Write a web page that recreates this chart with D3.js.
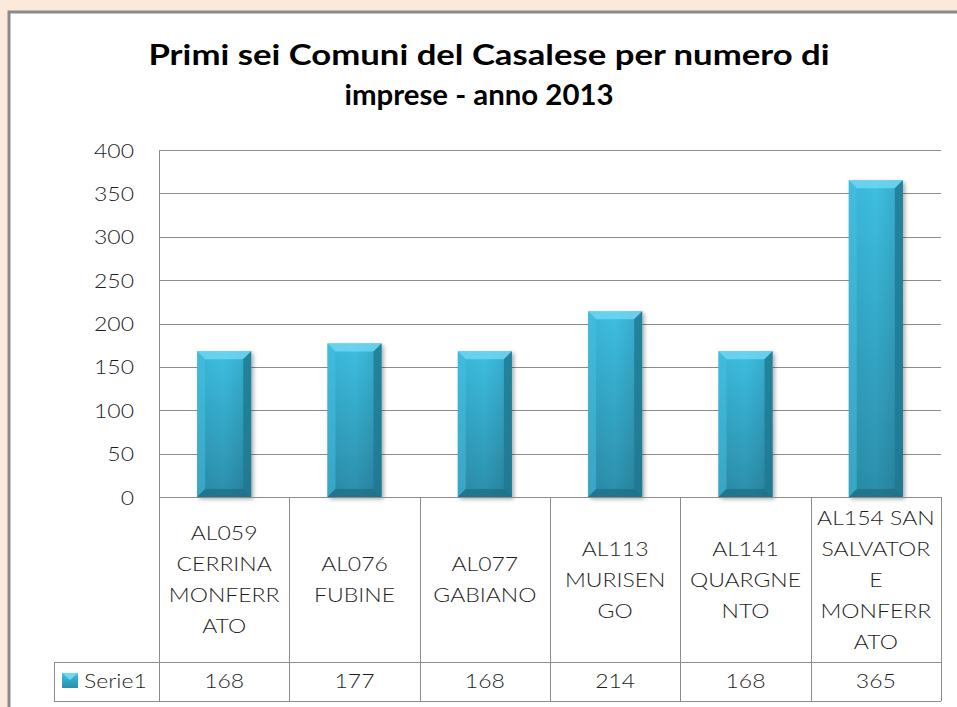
<!DOCTYPE html>
<html>
<head>
<meta charset="utf-8">
<script src="https://cdn.jsdelivr.net/npm/d3@7"></script>
<style>
  html, body { margin: 0; padding: 0; background: #fff; overflow: hidden; }
  svg { display: block; }
</style>
</head>
<body>
<svg id="chart" width="957" height="707"></svg>
<script>
// Data
const categories = ["AL059 CERRINA MONFERRATO", "AL076 FUBINE", "AL077 GABIANO",
  "AL113 MURISENGO", "AL141 QUARGNENTO", "AL154 SAN SALVATORE MONFERRATO"];
const categoryLines = [
  ["AL059", "CERRINA", "MONFERR", "ATO"],
  ["AL076", "FUBINE"],
  ["AL077", "GABIANO"],
  ["AL113", "MURISEN", "GO"],
  ["AL141", "QUARGNE", "NTO"],
  ["AL154 SAN", "SALVATOR", "E", "MONFERR", "ATO"]
];
const values = [168, 177, 168, 214, 168, 365];
const seriesName = "Serie1";
const yTicks = [0, 50, 100, 150, 200, 250, 300, 350, 400];
const titleLines = ["Primi sei Comuni del Casalese per numero di", "imprese - anno 2013"];

const font = "Lato, 'Open Sans', sans-serif";
const sx = 1.15;                // horizontal stretch of body text (picture is widened)
const sxTitle = [1.24, 1.05];
const titleX = [489, 479];
const textColor = "#1e1e1e";
const lineColor = "#8c8c8c";

const svg = d3.select("#chart");

// page background, then chart area (white box, grey frame on the visible left/top edges)
svg.append("rect")
  .attr("width", 957).attr("height", 707)
  .attr("fill", "#fde9d9");
svg.append("rect")
  .attr("x", 9).attr("y", 12)
  .attr("width", 948).attr("height", 695)
  .attr("fill", "#fff");
svg.append("path")
  .attr("d", "M9,707 V12 H957")
  .attr("fill", "none")
  .attr("stroke", "#8a8a8a")
  .attr("stroke-width", 3);

// title
svg.append("g").selectAll("text")
  .data(titleLines)
  .join("text")
  .attr("transform", (d, i) => `translate(${titleX[i]},${65 + i * 40}) scale(${sxTitle[i]},1)`)
  .attr("text-anchor", "middle")
  .attr("font-family", font)
  .attr("font-weight", "bold")
  .attr("font-size", 28)
  .attr("fill", "#000")
  .text(d => d);

// scales
const x = d3.scaleBand()
  .domain(categories)
  .range([159, 941])
  .paddingInner(0).paddingOuter(0);

const y = d3.scaleLinear()
  .domain([0, 400])
  .range([497, 150]);

const barW = x.bandwidth() * 0.415;

// gridlines
svg.append("g").selectAll("line")
  .data(yTicks)
  .join("line")
  .attr("x1", 159).attr("x2", 941)
  .attr("y1", d => Math.round(y(d)) + 0.5).attr("y2", d => Math.round(y(d)) + 0.5)
  .attr("stroke", lineColor);

// y axis labels
const yAxis = svg.append("g")
  .attr("transform", "translate(159,0)")
  .call(d3.axisLeft(y).tickValues(yTicks).tickSize(0).tickFormat(() => ""));
yAxis.select(".domain").attr("stroke", lineColor);
yAxis.selectAll(".tick")
  .append("text")
  .attr("transform", `translate(-25,7) scale(${sx},1)`)
  .attr("text-anchor", "end")
  .attr("font-family", font)
  .attr("font-weight", 300)
  .attr("font-size", 20)
  .attr("fill", textColor)
  .text(d => d);

// bar gradients
const defs = svg.append("defs");
const gMain = defs.append("linearGradient").attr("id", "barMain")
  .attr("x1", 0).attr("y1", 0).attr("x2", 0).attr("y2", 1);
gMain.append("stop").attr("offset", "0%").attr("stop-color", "#3dbfe2");
gMain.append("stop").attr("offset", "100%").attr("stop-color", "#2b8eab");

const gSide = defs.append("linearGradient").attr("id", "barSide")
  .attr("x1", 0).attr("y1", 0).attr("x2", 1).attr("y2", 0);
gSide.append("stop").attr("offset", "0%").attr("stop-color", "#000").attr("stop-opacity", 0.05);
gSide.append("stop").attr("offset", "50%").attr("stop-color", "#000").attr("stop-opacity", 0);
gSide.append("stop").attr("offset", "100%").attr("stop-color", "#000").attr("stop-opacity", 0.12);

const shadow = defs.append("filter").attr("id", "shadow")
  .attr("x", "-20%").attr("y", "-10%").attr("width", "150%").attr("height", "130%");
shadow.append("feDropShadow")
  .attr("dx", 2).attr("dy", 2).attr("stdDeviation", 2)
  .attr("flood-color", "#000").attr("flood-opacity", 0.35);

// bars
const bevel = 8;
const bars = svg.append("g").selectAll("g")
  .data(values.map((v, i) => ({ cat: categories[i], v })))
  .join("g");

bars.append("rect")
  .attr("x", d => x(d.cat) + (x.bandwidth() - barW) / 2)
  .attr("y", d => y(d.v))
  .attr("width", barW)
  .attr("height", d => y(0) - y(d.v))
  .attr("fill", "url(#barMain)")
  .attr("filter", "url(#shadow)");

bars.append("rect")
  .attr("x", d => x(d.cat) + (x.bandwidth() - barW) / 2)
  .attr("y", d => y(d.v))
  .attr("width", barW)
  .attr("height", d => y(0) - y(d.v))
  .attr("fill", "url(#barSide)");

function bevelPoly(d, side) {
  const x0 = x(d.cat) + (x.bandwidth() - barW) / 2, x1 = x0 + barW;
  const y0 = y(d.v), y1 = y(0), b = bevel;
  const pts = {
    top: [[x0, y0], [x1, y0], [x1 - b, y0 + b], [x0 + b, y0 + b]],
    left: [[x0, y0], [x0 + b, y0 + b], [x0 + b, y1 - b], [x0, y1]],
    right: [[x1, y0], [x1, y1], [x1 - b, y1 - b], [x1 - b, y0 + b]],
    bottom: [[x0, y1], [x0 + b, y1 - b], [x1 - b, y1 - b], [x1, y1]]
  };
  return pts[side].map(p => p.join(",")).join(" ");
}
const bevelFill = { top: "#72d8f2", left: "#47c2e3", right: "#1f7890", bottom: "#1f6f86" };
Object.keys(bevelFill).forEach(side => {
  bars.append("polygon")
    .attr("points", d => bevelPoly(d, side))
    .attr("fill", bevelFill[side])
    .attr("opacity", side === "left" ? 0.5 : 0.8);
});

// data table
const table = svg.append("g").attr("stroke", lineColor).attr("stroke-width", 1);
const rowTop = 497, rowMid = 662, rowBot = 701, legendLeft = 54;
table.append("line").attr("x1", 159).attr("x2", 941).attr("y1", rowTop + 0.5).attr("y2", rowTop + 0.5);
[rowMid, rowBot].forEach(r => {
  table.append("line").attr("x1", legendLeft).attr("x2", 941).attr("y1", r + 0.5).attr("y2", r + 0.5);
});
const bounds = categories.map(c => x(c)).concat([x.range()[1]]);
table.selectAll(".vline")
  .data(bounds)
  .join("line")
  .attr("x1", d => Math.round(d) + 0.5).attr("x2", d => Math.round(d) + 0.5)
  .attr("y1", rowTop).attr("y2", rowBot);
table.append("line")
  .attr("x1", legendLeft + 0.5).attr("x2", legendLeft + 0.5)
  .attr("y1", rowMid).attr("y2", rowBot);

// category labels
const lineH = 31;
const cellMid = (rowTop + rowMid) / 2;
svg.append("g").selectAll("g")
  .data(categoryLines.map((lines, i) => ({ cat: categories[i], lines })))
  .join("g")
  .each(function(d) {
    const cx = x(d.cat) + x.bandwidth() / 2;
    const firstBase = cellMid - (d.lines.length - 1) * lineH / 2 + 7;
    d3.select(this).selectAll("text")
      .data(d.lines)
      .join("text")
      .attr("transform", (t, j) => `translate(${cx},${firstBase + j * lineH}) scale(${sx},1)`)
      .attr("text-anchor", "middle")
      .attr("font-family", font)
      .attr("font-weight", 300)
      .attr("font-size", 20)
      .attr("fill", textColor)
      .text(t => t);
  });

// value row
svg.append("g").selectAll("text")
  .data(values.map((v, i) => ({ cat: categories[i], v })))
  .join("text")
  .attr("transform", d => `translate(${x(d.cat) + x.bandwidth() / 2},688) scale(${sx},1)`)
  .attr("text-anchor", "middle")
  .attr("font-family", font)
  .attr("font-weight", 300)
  .attr("font-size", 20)
  .attr("fill", textColor)
  .text(d => d.v);

// legend key + name
svg.append("rect")
  .attr("x", 62).attr("y", 673).attr("width", 16).attr("height", 15)
  .attr("fill", "url(#barMain)");
svg.append("polygon")
  .attr("points", "62,673 78,673 70,680")
  .attr("fill", "#72d8f2");
svg.append("text")
  .attr("transform", `translate(84,688) scale(${sx},1)`)
  .attr("font-family", font)
  .attr("font-weight", 300)
  .attr("font-size", 20)
  .attr("fill", textColor)
  .text(seriesName);
</script>
</body>
</html>
